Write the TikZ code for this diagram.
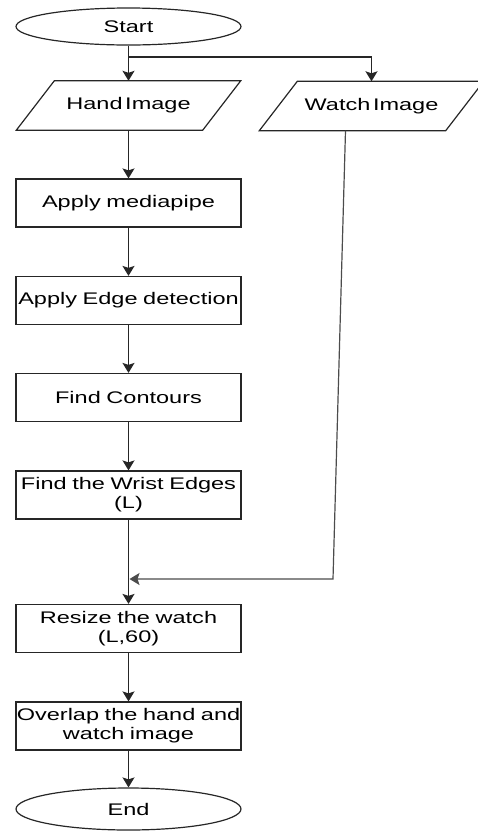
\documentclass[tikz,border=0pt]{standalone}
\usepackage{fontspec}
\setmainfont[FakeStretch=1.4,WordSpace=0.4]{Liberation Sans}
\usetikzlibrary{shapes.geometric,arrows.meta}
\begin{document}
\begin{tikzpicture}[x=1pt,y=-1pt,
  every node/.style={font=\fontsize{16.8}{19}\selectfont},
  term/.style={draw=black!85, ellipse, line width=1.2pt, minimum width=225pt, minimum height=37pt, inner sep=0pt},
  io/.style={rectangle, minimum width=224pt, minimum height=49pt, inner sep=0pt},
  ioline/.style={draw=black!85, line width=1.2pt, line join=miter},
  proc/.style={draw=black!85, rectangle, line width=1.2pt, minimum width=225pt, minimum height=48pt, text width=225pt, align=center, inner sep=0pt},
  flow/.style={draw=black!85, line width=1.4pt, -{Stealth[length=10pt,width=12pt,inset=2pt]}},
  side/.style={draw=black!70, line width=1.2pt, -{Stealth[length=10pt,width=12pt,inset=2pt]}},
]
\useasboundingbox (0,0) rectangle (478,831);

\node[term] (start) at (128.5,26.5) {Start};
\node[io] (hand) at (128.5,105.5) {Hand Image};
\node[io] (watch) at (371.5,106) {Watch Image};
\draw[ioline] (hand.south west) -- ([xshift=-38pt]hand.south east) -- (hand.north east) -- ([xshift=38pt]hand.north west) -- cycle;
\draw[ioline] (watch.south west) -- ([xshift=-38pt]watch.south east) -- (watch.north east) -- ([xshift=38pt]watch.north west) -- cycle;
\node[proc] (mp) at (128.5,203) {Apply mediapipe};
\node[proc] (edge) at (128.5,300.5) {Apply Edge detection};
\node[proc] (cont) at (128.5,397.5) {Find Contours};
\node[proc] (wrist) at (128.5,495) {Find the Wrist Edges\\(L)};
\node[proc] (resize) at (128.5,628.5) {Resize the watch\\(L,60)};
\node[proc] (overlap) at (128.5,726) {Overlap the hand and\\watch image};
\node[term, minimum height=42pt] (end) at (128.5,809) {End};

\coordinate (j) at (128.5,57);
\coordinate (wm) at (333,579);
\coordinate (m) at (129.5,579);

\draw[flow] (start) -- (hand);
\draw[flow] (j) -| (watch.north);
\draw[flow] (hand) -- (mp);
\draw[flow] (mp) -- (edge);
\draw[flow] (edge) -- (cont);
\draw[flow] (cont) -- (wrist);
\draw[flow] (wrist) -- (resize);
\draw[flow] (resize) -- (overlap);
\draw[flow] (overlap) -- (end);
\draw[side] ([xshift=-26pt]watch.south) -- (wm) -- (m);
\end{tikzpicture}
\end{document}
